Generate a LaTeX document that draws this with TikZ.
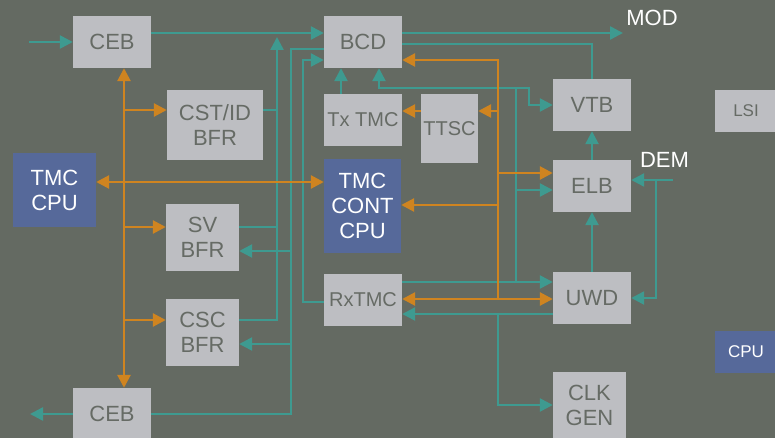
\documentclass[tikz,border=0pt]{standalone}
\usepackage{fontspec}
\setmainfont{Liberation Sans}
\usetikzlibrary{arrows.meta}
\definecolor{bg}{HTML}{646A62}
\definecolor{boxgray}{HTML}{BDBEC2}
\definecolor{boxtext}{HTML}{666B65}
\definecolor{boxblue}{HTML}{56699A}
\definecolor{teal0}{HTML}{3E9A90}
\definecolor{orange0}{HTML}{CF8420}
\tikzset{
  gbox/.style={fill=boxgray, text=boxtext, inner sep=0pt, align=center, font=\fontsize{22}{25}\selectfont},
  bbox/.style={fill=boxblue, text=white, inner sep=0pt, align=center, font=\fontsize{22}{25}\selectfont},
  sz/.style 2 args={minimum width=#1pt, minimum height=#2pt},
  smallfont/.style={font=\fontsize{20}{24}\selectfont},
  tinyfont/.style={font=\fontsize{17}{20}\selectfont},
  lbl/.style={text=white, inner sep=0pt, font=\fontsize{22}{25}\selectfont},
  tl/.style={draw=teal0, line width=2.5pt},
  org/.style={draw=orange0, line width=2.7pt},
  >={Triangle[length=13pt,width=13pt]}
}
\begin{document}
\begin{tikzpicture}[x=1pt,y=-1pt]
\fill[bg] (0,0) rectangle (775,438);
\useasboundingbox (0,0) rectangle (775,438);
\clip (0,0) rectangle (775,438);
% boxes
\node[gbox, sz={78}{52}] (ceb1) at (112,42) {CEB};
\node[gbox, sz={78}{52}] (bcd) at (363,42) {BCD};
\node[gbox, sz={96}{70}] (cst) at (215,125) {CST/ID\\BFR};
\node[gbox, sz={78}{52}, smallfont] (txtmc) at (363,120) {Tx TMC};
\node[gbox, sz={57}{69}, smallfont] (ttsc) at (449.5,128.5) {TTSC};
\node[gbox, sz={78}{52}] (vtb) at (592,105) {VTB};
\node[gbox, sz={62}{42}, tinyfont] (lsi) at (746,111) {LSI};
\node[bbox, sz={83}{74}] (tmccpu) at (54.5,190) {TMC\\CPU};
\node[bbox, sz={77}{94}] (tmccont) at (362.5,206) {TMC\\CONT\\CPU};
\node[gbox, sz={78}{52}] (elb) at (592,186) {ELB};
\node[gbox, sz={73}{67}] (sv) at (202.5,237.5) {SV\\BFR};
\node[gbox, sz={78}{52}, smallfont] (rxtmc) at (363,300) {RxTMC};
\node[gbox, sz={78}{52}] (uwd) at (592,298) {UWD};
\node[gbox, sz={73}{67}] (csc) at (202.5,332.5) {CSC\\BFR};
\node[bbox, sz={62}{42}, tinyfont] (cpu) at (746,352) {CPU};
\node[gbox, sz={78}{52}] (ceb2) at (112,414) {CEB};
\node[gbox, sz={73}{66}] (clk) at (589.5,405) {CLK\\GEN};
\node[lbl] (mod) at (652,18) {MOD};
\node[lbl] (dem) at (664.5,160) {DEM};
% free ends
\coordinate (inL) at (29,42);
\coordinate (outL) at (30,414);
\coordinate (modout) at (623,33);
\coordinate (demin) at (673,180);
\coordinate (cstup) at (277,37);
% teal connectors
\draw[tl,->] (inL) -- (ceb1.west);
\draw[tl,->] (ceb1.east |- 0,33) -- (bcd.west |- 0,33);
\draw[tl,->] (csc.east |- 0,320) -| (cstup);
\draw[tl] (cst.east |- 0,110) -- (cstup |- 0,110);
\draw[tl] (sv.east |- 0,227) -- (cstup |- 0,227);
\draw[tl] (bcd.west |- 0,49) -| (291,414) -- (ceb2.east);
\draw[tl,->] (291,251) -- (sv.east |- 0,251);
\draw[tl,->] (291,344) -- (csc.east |- 0,344);
\draw[tl,->] (ceb2.west) -- (outL);
\draw[tl,->] (rxtmc.west |- 0,302) -| (303,60) -- (bcd.west |- 0,60);
\draw[tl,->] (txtmc.north -| 341,0) -- (bcd.south -| 341,0);
\draw[tl,->] (bcd.east |- 0,33) -- (modout);
\draw[tl] (bcd.east |- 0,44) -| (vtb.north);
\draw[tl,->] (rxtmc.east |- 0,282) -- (uwd.west |- 0,282);
\draw[tl,->] (516,282) -- (516,88) -| (bcd.south -| 379,0);
\draw[tl,->] (516,88) -| (529,105) -- (vtb.west);
\draw[tl,->] (516,190) -- (elb.west |- 0,190);
\draw[tl,->] (uwd.west |- 0,314) -- (rxtmc.east |- 0,314);
\draw[tl,->] (498,314) |- (clk.west);
\draw[tl,->] (uwd.north) -- (elb.south);
\draw[tl,->] (elb.north) -- (vtb.south);
\draw[tl,->] (demin) -- (elb.east |- 0,180);
\draw[tl,->] (656,180) |- (uwd.east);
% orange connectors
\draw[org,<->] (tmccpu.east |- 0,182) -- (tmccont.west |- 0,182);
\draw[org,<->] (ceb1.south -| 124,0) -- (ceb2.north -| 124,0);
\draw[org,->] (124,110) -- (cst.west |- 0,110);
\draw[org,->] (124,227) -- (sv.west |- 0,227);
\draw[org,->] (124,320) -- (csc.west |- 0,320);
\draw[org,->] (498,299) |- (bcd.east |- 0,60);
\draw[org,->] (498,111) -- (ttsc.east |- 0,111);
\draw[org,->] (498,173) -- (elb.west |- 0,173);
\draw[org,->] (498,205) -- (tmccont.east |- 0,205);
\draw[org,<->] (rxtmc.east |- 0,299) -- (uwd.west |- 0,299);
\draw[org,->] (ttsc.west |- 0,111) -- (txtmc.east |- 0,111);
\end{tikzpicture}
\end{document}
